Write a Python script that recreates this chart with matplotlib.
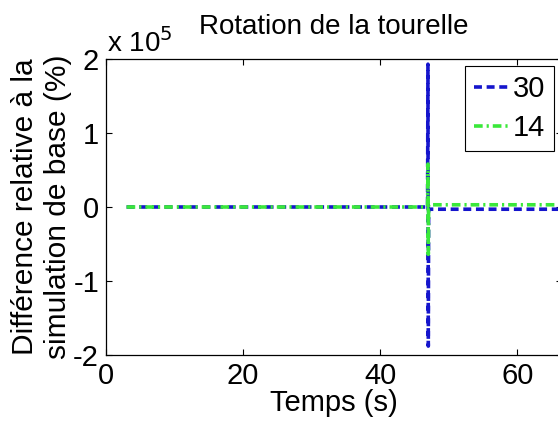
import numpy as np
import matplotlib
matplotlib.use("Agg")
import matplotlib.pyplot as plt

plt.rcParams["font.family"] = ["Liberation Sans", "DejaVu Sans"]

# Time (s) and relative difference (%)
time_30 = [3.0, 46.9, 46.95, 47.0, 47.05, 66.0]
diff_30 = [0.0, 0.0, 1.93e5, -1.88e5, -0.03e5, -0.03e5]

time_14 = [3.0, 46.9, 46.95, 47.0, 47.05, 66.0]
diff_14 = [0.0, 0.0, 0.58e5, -0.64e5, 0.03e5, 0.03e5]

labels = ["30", "14"]
x_ticks = [0, 20, 40, 60]
y_ticks = [-2e5, -1e5, 0, 1e5, 2e5]
y_tick_labels = ["-2", "-1", "0", "1", "2"]

W, H = 558, 423
fig = plt.figure(figsize=(W / 100, H / 100), dpi=100)
ax = fig.add_axes([106 / W, 1 - 355 / H, (562 - 106) / W, (355 - 59) / H])

ax.plot(time_30, diff_30, color="#1515cc", linestyle="--", linewidth=2.6,
        dashes=(2.2, 1.3), label=labels[0])
ax.plot(time_14, diff_14, color="#3ae83a", linestyle="-.", linewidth=2.6,
        dashes=(2.4, 1.1, 0.6, 1.1), label=labels[1])

ax.set_xlim(0, 66.5)
ax.set_ylim(-2e5, 2e5)
ax.set_xticks(x_ticks)
ax.set_yticks(y_ticks)
ax.set_yticklabels(y_tick_labels)
ax.tick_params(direction="in", top=True, right=True, labelsize=21, length=4,
               width=0.8, pad=5)
for s in ax.spines.values():
    s.set_linewidth(0.9)

ax.set_title("Rotation de la tourelle", fontsize=20, pad=18)
ax.set_xlabel("Temps (s)", fontsize=21, labelpad=-1)
ax.set_ylabel("Différence relative à la\nsimulation de base (%)", fontsize=21.5,
              labelpad=1, linespacing=1.2)
ax.text(0.003, 1.005, "x 10$^5$", transform=ax.transAxes, fontsize=20,
        ha="left", va="bottom")

leg = ax.legend(loc="upper right", bbox_to_anchor=(554 / W, 1 - 66 / H),
                bbox_transform=fig.transFigure, borderaxespad=0,
                fontsize=21, fancybox=False, framealpha=1, edgecolor="black",
                handlelength=1.3, handletextpad=0.05, borderpad=0.3,
                labelspacing=0.4)
leg.get_frame().set_linewidth(0.8)

fig.savefig("out.png", dpi=100)
